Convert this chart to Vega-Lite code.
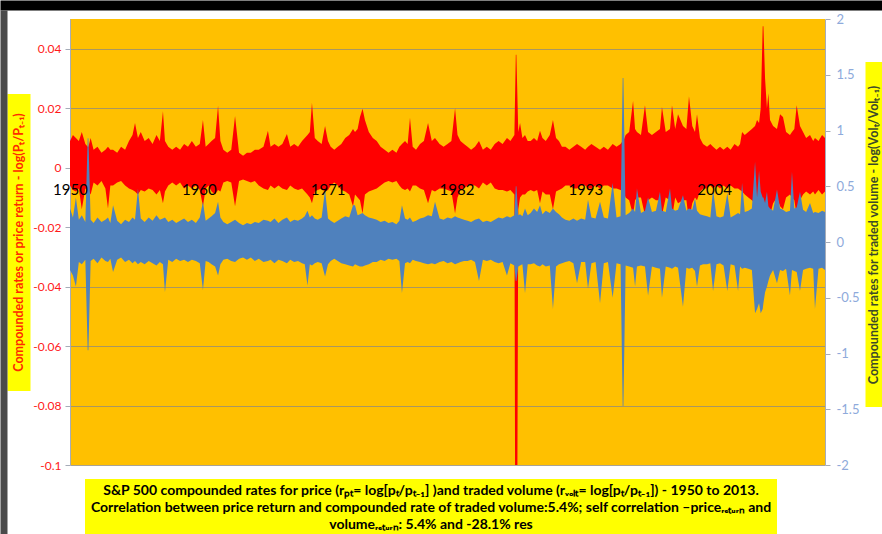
{
"$schema": "https://vega.github.io/schema/vega-lite/v6.json",
"width": 755, "height": 446,
"autosize": {"type": "none"},
"padding": {"left": 70, "top": 19, "right": 57, "bottom": 69},
"background": "#ffffff",
"config": {"view": {"fill": "#ffc000", "stroke": null}, "font": "Lato"},
"data": {"values": [
{"t":1950.00,"ph":0.009,"pl":-0.006,"vh":0.30,"vl":-0.25},
{"t":1950.25,"ph":0.011,"pl":-0.0075,"vh":0.22,"vl":-0.30},
{"t":1950.50,"ph":0.010,"pl":-0.008,"vh":0.40,"vl":-0.40},
{"t":1950.75,"ph":0.009,"pl":-0.007,"vh":0.20,"vl":-0.18},
{"t":1951.00,"ph":0.012,"pl":-0.014,"vh":0.24,"vl":-0.20},
{"t":1951.30,"ph":0.008,"pl":-0.007,"vh":0.18,"vl":-0.16},
{"t":1951.50,"ph":0.007,"pl":-0.0075,"vh":0.93,"vl":-0.97},
{"t":1951.56,"ph":0.007,"pl":-0.0075,"vh":0.93,"vl":-0.97},
{"t":1951.75,"ph":0.010,"pl":-0.009,"vh":0.20,"vl":-0.17},
{"t":1952.00,"ph":0.006,"pl":-0.005,"vh":0.17,"vl":-0.15},
{"t":1952.33,"ph":0.007,"pl":-0.006,"vh":0.22,"vl":-0.19},
{"t":1952.67,"ph":0.005,"pl":-0.0045,"vh":0.18,"vl":-0.14},
{"t":1953.00,"ph":0.006,"pl":-0.007,"vh":0.20,"vl":-0.17},
{"t":1953.22,"ph":0.007,"pl":-0.0137,"vh":0.22,"vl":-0.18},
{"t":1953.42,"ph":0.006,"pl":-0.006,"vh":0.17,"vl":-0.15},
{"t":1953.65,"ph":0.006,"pl":-0.006,"vh":0.33,"vl":-0.27},
{"t":1954.00,"ph":0.005,"pl":-0.005,"vh":0.19,"vl":-0.16},
{"t":1954.33,"ph":0.007,"pl":-0.0045,"vh":0.16,"vl":-0.14},
{"t":1954.67,"ph":0.006,"pl":-0.006,"vh":0.20,"vl":-0.18},
{"t":1955.00,"ph":0.009,"pl":-0.007,"vh":0.18,"vl":-0.16},
{"t":1955.30,"ph":0.011,"pl":-0.0075,"vh":0.22,"vl":-0.19},
{"t":1955.51,"ph":0.015,"pl":-0.008,"vh":0.20,"vl":-0.17},
{"t":1955.76,"ph":0.010,"pl":-0.009,"vh":0.48,"vl":-0.20},
{"t":1956.00,"ph":0.012,"pl":-0.0075,"vh":0.21,"vl":-0.18},
{"t":1956.33,"ph":0.009,"pl":-0.008,"vh":0.18,"vl":-0.20},
{"t":1956.67,"ph":0.010,"pl":-0.007,"vh":0.22,"vl":-0.17},
{"t":1957.00,"ph":0.008,"pl":-0.0075,"vh":0.19,"vl":-0.19},
{"t":1957.33,"ph":0.011,"pl":-0.009,"vh":0.24,"vl":-0.21},
{"t":1957.62,"ph":0.009,"pl":-0.0075,"vh":0.20,"vl":-0.18},
{"t":1957.88,"ph":0.019,"pl":-0.012,"vh":0.21,"vl":-0.20},
{"t":1958.05,"ph":0.009,"pl":-0.008,"vh":0.22,"vl":-0.45},
{"t":1958.33,"ph":0.007,"pl":-0.006,"vh":0.18,"vl":-0.16},
{"t":1958.67,"ph":0.006,"pl":-0.005,"vh":0.20,"vl":-0.18},
{"t":1959.00,"ph":0.007,"pl":-0.006,"vh":0.17,"vl":-0.15},
{"t":1959.33,"ph":0.006,"pl":-0.005,"vh":0.19,"vl":-0.17},
{"t":1959.67,"ph":0.008,"pl":-0.007,"vh":0.21,"vl":-0.16},
{"t":1960.00,"ph":0.007,"pl":-0.006,"vh":0.18,"vl":-0.18},
{"t":1960.33,"ph":0.009,"pl":-0.007,"vh":0.20,"vl":-0.16},
{"t":1960.67,"ph":0.007,"pl":-0.006,"vh":0.17,"vl":-0.17},
{"t":1961.00,"ph":0.008,"pl":-0.0075,"vh":0.22,"vl":-0.19},
{"t":1961.27,"ph":0.016,"pl":-0.013,"vh":0.36,"vl":-0.43},
{"t":1961.50,"ph":0.007,"pl":-0.007,"vh":0.19,"vl":-0.17},
{"t":1961.75,"ph":0.008,"pl":-0.006,"vh":0.21,"vl":-0.18},
{"t":1962.00,"ph":0.009,"pl":-0.008,"vh":0.23,"vl":-0.20},
{"t":1962.30,"ph":0.010,"pl":-0.009,"vh":0.26,"vl":-0.22},
{"t":1962.55,"ph":0.0208,"pl":-0.0075,"vh":0.36,"vl":-0.30},
{"t":1962.75,"ph":0.009,"pl":-0.008,"vh":0.22,"vl":-0.20},
{"t":1963.00,"ph":0.006,"pl":-0.005,"vh":0.18,"vl":-0.16},
{"t":1963.33,"ph":0.005,"pl":-0.0045,"vh":0.16,"vl":-0.15},
{"t":1963.67,"ph":0.006,"pl":-0.005,"vh":0.18,"vl":-0.17},
{"t":1963.99,"ph":0.0174,"pl":-0.013,"vh":0.20,"vl":-0.18},
{"t":1964.33,"ph":0.005,"pl":-0.0045,"vh":0.17,"vl":-0.15},
{"t":1964.67,"ph":0.004,"pl":-0.004,"vh":0.15,"vl":-0.14},
{"t":1965.00,"ph":0.005,"pl":-0.0045,"vh":0.17,"vl":-0.16},
{"t":1965.33,"ph":0.005,"pl":-0.005,"vh":0.16,"vl":-0.14},
{"t":1965.67,"ph":0.006,"pl":-0.0045,"vh":0.18,"vl":-0.17},
{"t":1966.00,"ph":0.006,"pl":-0.006,"vh":0.17,"vl":-0.15},
{"t":1966.40,"ph":0.007,"pl":-0.007,"vh":0.20,"vl":-0.18},
{"t":1966.78,"ph":0.0124,"pl":-0.0075,"vh":0.19,"vl":-0.17},
{"t":1967.00,"ph":0.007,"pl":-0.006,"vh":0.18,"vl":-0.16},
{"t":1967.33,"ph":0.008,"pl":-0.007,"vh":0.21,"vl":-0.19},
{"t":1967.67,"ph":0.007,"pl":-0.006,"vh":0.17,"vl":-0.16},
{"t":1968.00,"ph":0.008,"pl":-0.007,"vh":0.20,"vl":-0.17},
{"t":1968.39,"ph":0.0113,"pl":-0.0075,"vh":0.22,"vl":-0.19},
{"t":1968.67,"ph":0.007,"pl":-0.006,"vh":0.18,"vl":-0.16},
{"t":1969.00,"ph":0.008,"pl":-0.007,"vh":0.20,"vl":-0.18},
{"t":1969.33,"ph":0.007,"pl":-0.0075,"vh":0.19,"vl":-0.17},
{"t":1969.67,"ph":0.009,"pl":-0.007,"vh":0.21,"vl":-0.19},
{"t":1969.90,"ph":0.010,"pl":-0.008,"vh":0.23,"vl":-0.20},
{"t":1970.13,"ph":0.011,"pl":-0.009,"vh":0.28,"vl":-0.39},
{"t":1970.33,"ph":0.012,"pl":-0.010,"vh":0.22,"vl":-0.20},
{"t":1970.51,"ph":0.0218,"pl":-0.012,"vh":0.24,"vl":-0.21},
{"t":1970.75,"ph":0.010,"pl":-0.008,"vh":0.21,"vl":-0.19},
{"t":1971.00,"ph":0.009,"pl":-0.0075,"vh":0.20,"vl":-0.18},
{"t":1971.33,"ph":0.008,"pl":-0.007,"vh":0.22,"vl":-0.19},
{"t":1971.62,"ph":0.014,"pl":-0.008,"vh":0.47,"vl":-0.31},
{"t":1971.87,"ph":0.009,"pl":-0.0075,"vh":0.21,"vl":-0.20},
{"t":1972.10,"ph":0.007,"pl":-0.006,"vh":0.19,"vl":-0.17},
{"t":1972.40,"ph":0.006,"pl":-0.005,"vh":0.17,"vl":-0.15},
{"t":1972.70,"ph":0.007,"pl":-0.006,"vh":0.19,"vl":-0.17},
{"t":1973.00,"ph":0.008,"pl":-0.0075,"vh":0.21,"vl":-0.19},
{"t":1973.33,"ph":0.010,"pl":-0.008,"vh":0.23,"vl":-0.20},
{"t":1973.67,"ph":0.011,"pl":-0.009,"vh":0.22,"vl":-0.21},
{"t":1973.99,"ph":0.013,"pl":-0.013,"vh":0.33,"vl":-0.22},
{"t":1974.16,"ph":0.012,"pl":-0.009,"vh":0.33,"vl":-0.20},
{"t":1974.38,"ph":0.013,"pl":-0.010,"vh":0.24,"vl":-0.21},
{"t":1974.58,"ph":0.017,"pl":-0.011,"vh":0.25,"vl":-0.22},
{"t":1974.80,"ph":0.0198,"pl":-0.0154,"vh":0.26,"vl":-0.22},
{"t":1975.00,"ph":0.016,"pl":-0.009,"vh":0.24,"vl":-0.21},
{"t":1975.33,"ph":0.012,"pl":-0.008,"vh":0.22,"vl":-0.20},
{"t":1975.67,"ph":0.010,"pl":-0.0075,"vh":0.21,"vl":-0.18},
{"t":1976.00,"ph":0.009,"pl":-0.007,"vh":0.20,"vl":-0.18},
{"t":1976.33,"ph":0.007,"pl":-0.006,"vh":0.18,"vl":-0.16},
{"t":1976.67,"ph":0.006,"pl":-0.005,"vh":0.19,"vl":-0.17},
{"t":1977.00,"ph":0.005,"pl":-0.0045,"vh":0.17,"vl":-0.15},
{"t":1977.33,"ph":0.006,"pl":-0.005,"vh":0.18,"vl":-0.16},
{"t":1977.67,"ph":0.005,"pl":-0.0045,"vh":0.16,"vl":-0.15},
{"t":1977.92,"ph":0.007,"pl":-0.006,"vh":0.19,"vl":-0.17},
{"t":1978.14,"ph":0.008,"pl":-0.007,"vh":0.33,"vl":-0.46},
{"t":1978.40,"ph":0.009,"pl":-0.0075,"vh":0.21,"vl":-0.19},
{"t":1978.62,"ph":0.008,"pl":-0.007,"vh":0.20,"vl":-0.18},
{"t":1978.82,"ph":0.0168,"pl":-0.008,"vh":0.22,"vl":-0.19},
{"t":1979.05,"ph":0.007,"pl":-0.006,"vh":0.18,"vl":-0.16},
{"t":1979.33,"ph":0.006,"pl":-0.006,"vh":0.19,"vl":-0.17},
{"t":1979.67,"ph":0.008,"pl":-0.007,"vh":0.21,"vl":-0.18},
{"t":1980.00,"ph":0.009,"pl":-0.0075,"vh":0.22,"vl":-0.19},
{"t":1980.35,"ph":0.015,"pl":-0.012,"vh":0.24,"vl":-0.20},
{"t":1980.67,"ph":0.009,"pl":-0.0075,"vh":0.23,"vl":-0.19},
{"t":1980.94,"ph":0.010,"pl":-0.008,"vh":0.36,"vl":-0.20},
{"t":1981.33,"ph":0.008,"pl":-0.007,"vh":0.21,"vl":-0.18},
{"t":1981.67,"ph":0.007,"pl":-0.007,"vh":0.20,"vl":-0.17},
{"t":1982.00,"ph":0.008,"pl":-0.0075,"vh":0.22,"vl":-0.19},
{"t":1982.33,"ph":0.009,"pl":-0.008,"vh":0.21,"vl":-0.18},
{"t":1982.64,"ph":0.020,"pl":-0.0154,"vh":0.23,"vl":-0.20},
{"t":1982.85,"ph":0.011,"pl":-0.010,"vh":0.22,"vl":-0.19},
{"t":1983.10,"ph":0.009,"pl":-0.0075,"vh":0.21,"vl":-0.18},
{"t":1983.40,"ph":0.008,"pl":-0.007,"vh":0.20,"vl":-0.17},
{"t":1983.70,"ph":0.007,"pl":-0.006,"vh":0.19,"vl":-0.17},
{"t":1984.00,"ph":0.006,"pl":-0.006,"vh":0.18,"vl":-0.16},
{"t":1984.33,"ph":0.007,"pl":-0.006,"vh":0.20,"vl":-0.18},
{"t":1984.67,"ph":0.009,"pl":-0.007,"vh":0.21,"vl":-0.35},
{"t":1985.00,"ph":0.006,"pl":-0.005,"vh":0.18,"vl":-0.16},
{"t":1985.33,"ph":0.007,"pl":-0.006,"vh":0.19,"vl":-0.17},
{"t":1985.67,"ph":0.006,"pl":-0.005,"vh":0.18,"vl":-0.16},
{"t":1986.00,"ph":0.008,"pl":-0.007,"vh":0.20,"vl":-0.18},
{"t":1986.33,"ph":0.009,"pl":-0.0075,"vh":0.22,"vl":-0.19},
{"t":1986.67,"ph":0.008,"pl":-0.0075,"vh":0.21,"vl":-0.18},
{"t":1987.04,"ph":0.010,"pl":-0.008,"vh":0.23,"vl":-0.30},
{"t":1987.33,"ph":0.009,"pl":-0.0075,"vh":0.22,"vl":-0.19},
{"t":1987.67,"ph":0.011,"pl":-0.009,"vh":0.24,"vl":-0.21},
{"t":1987.79,"ph":0.038,"pl":-0.2,"vh":0.50,"vl":-0.35},
{"t":1987.84,"ph":0.038,"pl":-0.2,"vh":0.50,"vl":-0.35},
{"t":1988.00,"ph":0.012,"pl":-0.014,"vh":0.24,"vl":-0.22},
{"t":1988.15,"ph":0.015,"pl":-0.010,"vh":0.25,"vl":-0.21},
{"t":1988.35,"ph":0.010,"pl":-0.009,"vh":0.23,"vl":-0.20},
{"t":1988.57,"ph":0.011,"pl":-0.009,"vh":0.30,"vl":-0.46},
{"t":1988.80,"ph":0.009,"pl":-0.008,"vh":0.24,"vl":-0.20},
{"t":1989.05,"ph":0.009,"pl":-0.0075,"vh":0.26,"vl":-0.20},
{"t":1989.33,"ph":0.010,"pl":-0.008,"vh":0.30,"vl":-0.19},
{"t":1989.60,"ph":0.009,"pl":-0.0075,"vh":0.27,"vl":-0.21},
{"t":1989.84,"ph":0.0124,"pl":-0.012,"vh":0.33,"vl":-0.22},
{"t":1990.05,"ph":0.010,"pl":-0.008,"vh":0.25,"vl":-0.20},
{"t":1990.33,"ph":0.009,"pl":-0.009,"vh":0.28,"vl":-0.22},
{"t":1990.67,"ph":0.011,"pl":-0.009,"vh":0.26,"vl":-0.21},
{"t":1990.94,"ph":0.016,"pl":-0.014,"vh":0.30,"vl":-0.60},
{"t":1991.20,"ph":0.010,"pl":-0.008,"vh":0.27,"vl":-0.22},
{"t":1991.45,"ph":0.009,"pl":-0.0075,"vh":0.25,"vl":-0.20},
{"t":1991.70,"ph":0.007,"pl":-0.007,"vh":0.22,"vl":-0.19},
{"t":1992.00,"ph":0.007,"pl":-0.006,"vh":0.20,"vl":-0.18},
{"t":1992.33,"ph":0.006,"pl":-0.006,"vh":0.19,"vl":-0.17},
{"t":1992.67,"ph":0.007,"pl":-0.007,"vh":0.21,"vl":-0.19},
{"t":1992.98,"ph":0.008,"pl":-0.007,"vh":0.19,"vl":-0.37},
{"t":1993.33,"ph":0.007,"pl":-0.006,"vh":0.21,"vl":-0.18},
{"t":1993.67,"ph":0.006,"pl":-0.006,"vh":0.20,"vl":-0.18},
{"t":1993.91,"ph":0.007,"pl":-0.007,"vh":0.38,"vl":-0.42},
{"t":1994.20,"ph":0.008,"pl":-0.007,"vh":0.22,"vl":-0.19},
{"t":1994.55,"ph":0.007,"pl":-0.006,"vh":0.21,"vl":-0.18},
{"t":1994.93,"ph":0.006,"pl":-0.007,"vh":0.36,"vl":-0.55},
{"t":1995.25,"ph":0.007,"pl":-0.006,"vh":0.22,"vl":-0.19},
{"t":1995.60,"ph":0.006,"pl":-0.006,"vh":0.21,"vl":-0.18},
{"t":1996.00,"ph":0.008,"pl":-0.007,"vh":0.53,"vl":-0.50},
{"t":1996.33,"ph":0.007,"pl":-0.007,"vh":0.22,"vl":-0.19},
{"t":1996.67,"ph":0.008,"pl":-0.0075,"vh":0.23,"vl":-0.20},
{"t":1996.85,"ph":0.009,"pl":-0.008,"vh":1.47,"vl":-1.47},
{"t":1996.91,"ph":0.009,"pl":-0.008,"vh":1.47,"vl":-1.47},
{"t":1997.10,"ph":0.011,"pl":-0.010,"vh":0.24,"vl":-0.21},
{"t":1997.40,"ph":0.012,"pl":-0.011,"vh":0.26,"vl":-0.22},
{"t":1997.73,"ph":0.0224,"pl":-0.016,"vh":0.30,"vl":-0.23},
{"t":1997.90,"ph":0.013,"pl":-0.011,"vh":0.27,"vl":-0.40},
{"t":1998.06,"ph":0.012,"pl":-0.010,"vh":0.48,"vl":-0.22},
{"t":1998.40,"ph":0.011,"pl":-0.010,"vh":0.26,"vl":-0.21},
{"t":1998.74,"ph":0.021,"pl":-0.016,"vh":0.28,"vl":-0.22},
{"t":1999.00,"ph":0.012,"pl":-0.011,"vh":0.40,"vl":-0.48},
{"t":1999.33,"ph":0.011,"pl":-0.010,"vh":0.27,"vl":-0.22},
{"t":1999.67,"ph":0.012,"pl":-0.011,"vh":0.28,"vl":-0.23},
{"t":2000.01,"ph":0.013,"pl":-0.011,"vh":0.45,"vl":-0.24},
{"t":2000.18,"ph":0.0204,"pl":-0.016,"vh":0.28,"vl":-0.50},
{"t":2000.50,"ph":0.012,"pl":-0.010,"vh":0.27,"vl":-0.22},
{"t":2000.86,"ph":0.013,"pl":-0.011,"vh":0.48,"vl":-0.23},
{"t":2001.03,"ph":0.021,"pl":-0.017,"vh":0.30,"vl":-0.24},
{"t":2001.30,"ph":0.013,"pl":-0.010,"vh":0.28,"vl":-0.22},
{"t":2001.54,"ph":0.018,"pl":-0.012,"vh":0.29,"vl":-0.23},
{"t":2001.96,"ph":0.014,"pl":-0.011,"vh":0.42,"vl":-0.58},
{"t":2002.25,"ph":0.013,"pl":-0.011,"vh":0.28,"vl":-0.23},
{"t":2002.47,"ph":0.024,"pl":-0.018,"vh":0.30,"vl":-0.24},
{"t":2002.75,"ph":0.014,"pl":-0.012,"vh":0.29,"vl":-0.23},
{"t":2002.98,"ph":0.012,"pl":-0.010,"vh":0.39,"vl":-0.26},
{"t":2003.15,"ph":0.018,"pl":-0.011,"vh":0.28,"vl":-0.40},
{"t":2003.40,"ph":0.010,"pl":-0.008,"vh":0.25,"vl":-0.21},
{"t":2003.66,"ph":0.008,"pl":-0.007,"vh":0.24,"vl":-0.20},
{"t":2004.00,"ph":0.007,"pl":-0.007,"vh":0.23,"vl":-0.20},
{"t":2004.28,"ph":0.008,"pl":-0.006,"vh":0.22,"vl":-0.19},
{"t":2004.51,"ph":0.007,"pl":-0.007,"vh":0.47,"vl":-0.44},
{"t":2004.80,"ph":0.006,"pl":-0.006,"vh":0.23,"vl":-0.20},
{"t":2005.10,"ph":0.007,"pl":-0.007,"vh":0.22,"vl":-0.19},
{"t":2005.40,"ph":0.006,"pl":-0.006,"vh":0.23,"vl":-0.21},
{"t":2005.72,"ph":0.007,"pl":-0.007,"vh":0.44,"vl":-0.44},
{"t":2006.00,"ph":0.006,"pl":-0.006,"vh":0.22,"vl":-0.20},
{"t":2006.33,"ph":0.008,"pl":-0.007,"vh":0.24,"vl":-0.21},
{"t":2006.63,"ph":0.007,"pl":-0.007,"vh":0.26,"vl":-0.44},
{"t":2006.80,"ph":0.008,"pl":-0.0075,"vh":0.25,"vl":-0.22},
{"t":2006.97,"ph":0.012,"pl":-0.008,"vh":0.53,"vl":-0.24},
{"t":2007.20,"ph":0.011,"pl":-0.009,"vh":0.27,"vl":-0.23},
{"t":2007.50,"ph":0.012,"pl":-0.010,"vh":0.28,"vl":-0.24},
{"t":2007.80,"ph":0.013,"pl":-0.011,"vh":0.30,"vl":-0.25},
{"t":2008.07,"ph":0.014,"pl":-0.012,"vh":0.72,"vl":-0.64},
{"t":2008.24,"ph":0.016,"pl":-0.014,"vh":0.40,"vl":-0.60},
{"t":2008.41,"ph":0.015,"pl":-0.016,"vh":0.64,"vl":-0.55},
{"t":2008.55,"ph":0.020,"pl":-0.025,"vh":0.45,"vl":-0.64},
{"t":2008.72,"ph":0.0476,"pl":-0.04,"vh":0.40,"vl":-0.60},
{"t":2008.78,"ph":0.0476,"pl":-0.04,"vh":0.40,"vl":-0.55},
{"t":2008.92,"ph":0.030,"pl":-0.035,"vh":0.35,"vl":-0.45},
{"t":2009.08,"ph":0.020,"pl":-0.025,"vh":0.45,"vl":-0.40},
{"t":2009.20,"ph":0.025,"pl":-0.020,"vh":0.32,"vl":-0.35},
{"t":2009.34,"ph":0.016,"pl":-0.016,"vh":0.30,"vl":-0.30},
{"t":2009.60,"ph":0.014,"pl":-0.012,"vh":0.28,"vl":-0.25},
{"t":2009.93,"ph":0.013,"pl":-0.010,"vh":0.47,"vl":-0.37},
{"t":2010.19,"ph":0.018,"pl":-0.013,"vh":0.30,"vl":-0.25},
{"t":2010.44,"ph":0.017,"pl":-0.014,"vh":0.29,"vl":-0.26},
{"t":2010.70,"ph":0.012,"pl":-0.010,"vh":0.27,"vl":-0.24},
{"t":2011.03,"ph":0.011,"pl":-0.009,"vh":0.28,"vl":-0.48},
{"t":2011.20,"ph":0.012,"pl":-0.010,"vh":0.63,"vl":-0.25},
{"t":2011.40,"ph":0.013,"pl":-0.011,"vh":0.30,"vl":-0.26},
{"t":2011.60,"ph":0.021,"pl":-0.016,"vh":0.31,"vl":-0.27},
{"t":2011.88,"ph":0.014,"pl":-0.011,"vh":0.45,"vl":-0.44},
{"t":2012.14,"ph":0.012,"pl":-0.009,"vh":0.29,"vl":-0.25},
{"t":2012.40,"ph":0.010,"pl":-0.008,"vh":0.27,"vl":-0.24},
{"t":2012.73,"ph":0.011,"pl":-0.009,"vh":0.35,"vl":-0.23},
{"t":2013.00,"ph":0.009,"pl":-0.008,"vh":0.26,"vl":-0.24},
{"t":2013.15,"ph":0.010,"pl":-0.009,"vh":0.27,"vl":-0.60},
{"t":2013.45,"ph":0.009,"pl":-0.0075,"vh":0.26,"vl":-0.24},
{"t":2013.75,"ph":0.011,"pl":-0.009,"vh":0.28,"vl":-0.23},
{"t":2014.00,"ph":0.010,"pl":-0.008,"vh":0.27,"vl":-0.25}
]},
"layer": [
{
"mark": {"type": "area", "color": "#ff0000", "clip": true},
"encoding": {
"x": {"field": "t", "type": "quantitative", "scale": {"domain": [1950, 2014], "nice": false, "zero": false},
"axis": {"orient": "bottom", "offset": -298, "values": [1950, 1960.92, 1971.84, 1982.76, 1993.68, 2004.6], "labelExpr": "floor(datum.value)", "labelFontSize": 15, "labelColor": "#000000", "labelPadding": 15, "ticks": false, "tickSize": 0, "domain": false, "grid": false, "title": null, "labelOverlap": false, "labelFlush": false, "labelBound": false, "zindex": 2}},
"y": {"field": "ph", "type": "quantitative", "scale": {"domain": [-0.1, 0.05], "nice": false, "zero": false},
"axis": {"orient": "left", "values": [-0.1, -0.08, -0.06, -0.04, -0.02, 0, 0.02, 0.04], "labelExpr": "datum.value == 0 ? '0' : (datum.value < 0 ? '-' : '') + format(abs(datum.value), '~g')", "labelColor": "#ff1a1a", "labelFontSize": 12, "labelPadding": 4, "tickSize": 5, "tickColor": "#a6acb8", "domain": true, "domainColor": "#a6acb8", "grid": true, "gridColor": "#948c78", "gridOpacity": 0.8, "title": null}},
"y2": {"field": "pl"}
}
},
{
"mark": {"type": "area", "color": "#4f81bd", "clip": true},
"encoding": {
"x": {"field": "t", "type": "quantitative", "axis": null},
"y": {"field": "vh", "type": "quantitative", "scale": {"domain": [-2, 2], "nice": false, "zero": false},
"axis": {"orient": "right", "values": [-2, -1.5, -1, -0.5, 0, 0.5, 1, 1.5, 2], "labelExpr": "(datum.value < 0 ? '-' : '') + format(abs(datum.value), '~g')", "labelColor": "#8eaadb", "labelFontSize": 13, "labelPadding": 6, "tickSize": 5, "tickColor": "#a6acb8", "domain": true, "domainColor": "#a6acb8", "grid": false, "title": null}},
"y2": {"field": "vl"}
}
},
{
"mark": {"type": "point", "opacity": 0},
"encoding": {
"x": {"field": "t", "type": "quantitative",
"axis": {"orient": "top", "offset": 9, "values": [1981.45], "labels": false, "domain": false, "grid": false, "ticks": true, "tickSize": 10, "tickWidth": 882, "tickColor": "#000000", "title": null}},
"y": {"field": "ph", "type": "quantitative", "scale": {"domain": [-0.1, 0.05], "nice": false, "zero": false},
"axis": {"orient": "left", "offset": 40, "values": [-0.025], "labels": false, "domain": false, "grid": false, "ticks": true, "tickSize": 23, "tickWidth": 297, "tickColor": "#ffff00", "title": "Compounded rates or price return - log(Pₜ/Pₜ₋₁)", "titleColor": "#ff2a00", "titleFontSize": 12.5, "titleFontWeight": "bold", "titleAngle": 270, "titleX": -11.5, "titleY": 223, "titleAlign": "center", "titleBaseline": "middle"}},
"color": {"datum": "caption", "type": "nominal", "scale": {"range": ["#ffff00"]},
"legend": {"orient": "none", "legendX": 15, "legendY": 460, "fillColor": "#ffff00", "strokeColor": null, "padding": 5,
"title": ["S&P 500 compounded rates for price (rₚₜ= log[pₜ/pₜ₋₁] )and traded volume (rᵥₒₗₜ= log[pₜ/pₜ₋₁])  - 1950 to 2013.", "Correlation between price return and compounded rate of traded volume:5.4%; self correlation –priceᵣₑₜᵤᵣₙ and", "volumeᵣₑₜᵤᵣₙ: 5.4% and -28.1% res"],
"titleFontSize": 14, "titleFontWeight": "bold", "titleColor": "#000000", "titleLimit": 900, "titleLineHeight": 17, "titleAlign": "center", "titleAnchor": "middle", "titlePadding": 4, "labelExpr": "''", "labelOpacity": 0, "symbolOpacity": 0, "symbolSize": 0}}
}
},
{
"mark": {"type": "point", "opacity": 0},
"encoding": {
"x": {"field": "t", "type": "quantitative", "axis": null},
"y": {"field": "vh", "type": "quantitative", "scale": {"domain": [-2, 2], "nice": false, "zero": false},
"axis": {"orient": "right", "offset": 40, "values": [0.07], "labels": false, "domain": false, "grid": false, "ticks": true, "tickSize": 25, "tickWidth": 345, "tickColor": "#ffff00", "title": "Compounded rates for traded volume - log(Volₜ/Volₜ₋₁)", "titleColor": "#3d4a2a", "titleFontSize": 12.5, "titleFontWeight": "bold", "titleAngle": 270, "titleX": 8, "titleY": 215.5, "titleAlign": "center", "titleBaseline": "middle"}}
}
},
{
"mark": {"type": "point", "opacity": 0},
"encoding": {
"x": {"field": "t", "type": "quantitative", "axis": null},
"y": {"field": "pl", "type": "quantitative", "scale": {"domain": [-0.1, 0.05], "nice": false, "zero": false},
"axis": {"orient": "left", "offset": 63, "values": [-0.0352], "labels": false, "domain": false, "grid": false, "ticks": true, "tickSize": 7, "tickWidth": 524, "tickColor": "#4a4a4a", "title": null}}
}
}
],
"resolve": {"scale": {"y": "independent"}, "axis": {"x": "independent", "y": "independent"}}
}
